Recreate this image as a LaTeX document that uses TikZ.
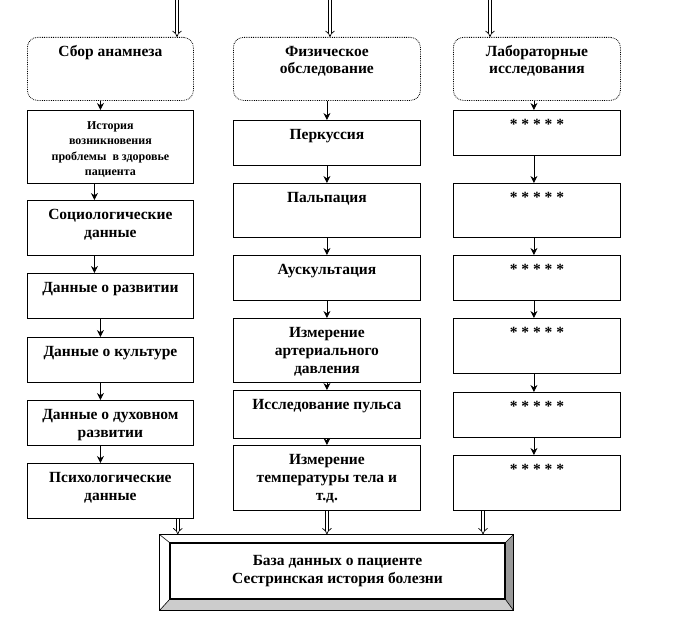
\documentclass[tikz,border=0pt]{standalone}
\usepackage{fontspec}
\setmainfont{Liberation Serif}
\usepackage{tikz}
\usetikzlibrary{shapes, arrows.meta, calc, positioning}
\tikzstyle{arrow} = [line width=0.8pt, -{Stealth[length=7pt, width=7pt]}]
\tikzstyle{bigarrow} = [double, double distance=2.6pt, line width=0.7pt, -{Implies}]
\tikzstyle{stepbox} = [draw, line width=0.8pt, anchor=north west, inner xsep=0pt, inner ysep=6pt, font=\fontsize{15.5}{18}\selectfont\bfseries]
\tikzstyle{headbox} = [stepbox, rounded corners=10pt, densely dotted]
\newcommand{\boxtext}[3]{\parbox[c][\dimexpr#2-12pt\relax][t]{#1}{\centering\strut #3}}

\begin{document}
\begin{tikzpicture}[x=1pt, y=-1pt]
    \useasboundingbox (0,0) rectangle (693,618);
    % left column
    \node[headbox] (L0) at (27,37)  {\boxtext{166pt}{63pt}{Сбор анамнеза}};
    \node[stepbox] (L1) at (27,110) {\boxtext{166pt}{73pt}{\fontsize{12}{15.5}\selectfont История\\возникновения\\проблемы \ в здоровье\\пациента}};
    \node[stepbox] (L2) at (27,200) {\boxtext{166pt}{55pt}{Социологические\\данные}};
    \node[stepbox] (L3) at (27,273) {\boxtext{166pt}{45pt}{Данные о развитии}};
    \node[stepbox] (L4) at (27,337) {\boxtext{166pt}{45pt}{Данные о культуре}};
    \node[stepbox] (L5) at (27,400) {\boxtext{166pt}{45pt}{Данные о духовном\\развитии}};
    \node[stepbox] (L6) at (27,463) {\boxtext{166pt}{55pt}{Психологические\\данные}};
    % middle column
    \node[headbox] (M0) at (233,37)  {\boxtext{187pt}{63pt}{Физическое\\обследование}};
    \node[stepbox] (M1) at (233,120) {\boxtext{187pt}{45pt}{Перкуссия}};
    \node[stepbox] (M2) at (233,183) {\boxtext{187pt}{54pt}{Пальпация}};
    \node[stepbox] (M3) at (233,255) {\boxtext{187pt}{45pt}{Аускультация}};
    \node[stepbox] (M4) at (233,318) {\boxtext{187pt}{64pt}{Измерение\\артериального\\давления}};
    \node[stepbox] (M5) at (233,390) {\boxtext{187pt}{48pt}{Исследование пульса}};
    \node[stepbox] (M6) at (233,445) {\boxtext{187pt}{65pt}{Измерение\\температуры тела и\\т.д.}};
    % right column
    \node[headbox] (R0) at (453,37)  {\boxtext{167pt}{63pt}{Лабораторные\\исследования}};
    \node[stepbox] (R1) at (453,110) {\boxtext{167pt}{45pt}{* * * * *}};
    \node[stepbox] (R2) at (453,183) {\boxtext{167pt}{54pt}{* * * * *}};
    \node[stepbox] (R3) at (453,255) {\boxtext{167pt}{45pt}{* * * * *}};
    \node[stepbox] (R4) at (453,318) {\boxtext{167pt}{55pt}{* * * * *}};
    \node[stepbox] (R5) at (453,392) {\boxtext{167pt}{45pt}{* * * * *}};
    \node[stepbox] (R6) at (453,455) {\boxtext{167pt}{55pt}{* * * * *}};
    % base
    \node[draw, line width=1.2pt, minimum width=335pt, minimum height=56pt, align=center, font=\fontsize{15.5}{18}\selectfont\bfseries] (base) at (337.5,571) {База данных о пациенте\\Сестринская история болезни};
    \coordinate (baseNW) at ($(base.north west)+(-10,-8)$);
    \coordinate (baseNE) at ($(base.north east)+(8,-8)$);
    \coordinate (baseSE) at ($(base.south east)+(8,11)$);
    \coordinate (baseSW) at ($(base.south west)+(-10,11)$);
    \fill[black!40] (baseNE) -- (baseSE) -- (base.south east) -- (base.north east) -- cycle;
    \fill[black!20] (baseSW) -- (baseSE) -- (base.south east) -- (base.south west) -- cycle;
    \draw[line width=0.8pt] (baseNW) rectangle (baseSE);
    \draw[line width=0.6pt] (baseNW) -- (base.north west) (baseNE) -- (base.north east)
        (baseSE) -- (base.south east) (baseSW) -- (base.south west);
    \draw[line width=1.2pt] (base.north west) rectangle (base.south east);
    % inputs
    \coordinate (inL) at (177,0);
    \coordinate (inM) at (330,0);
    \coordinate (inR) at (490,0);
    \draw[bigarrow] (inL) -- (inL |- L0.north);
    \draw[bigarrow] (inM) -- (inM |- M0.north);
    \draw[bigarrow] (inR) -- (inR |- R0.north);
    % left arrows
    \draw[arrow] ([xshift=-10pt]L0.south) -- ([xshift=-10pt]L1.north);
    \draw[arrow] ([xshift=-16pt]L1.south) -- ([xshift=-16pt]L2.north);
    \draw[arrow] ([xshift=-16pt]L2.south) -- ([xshift=-16pt]L3.north);
    \draw[arrow] ([xshift=-10pt]L3.south) -- ([xshift=-10pt]L4.north);
    \draw[arrow] ([xshift=-10pt]L4.south) -- ([xshift=-10pt]L5.north);
    \draw[arrow] ([xshift=-10pt]L5.south) -- ([xshift=-10pt]L6.north);
    % middle arrows
    \draw[arrow] (M0) -- (M1);
    \draw[arrow] (M1) -- (M2);
    \draw[arrow] (M2) -- (M3);
    \draw[arrow] (M3) -- (M4);
    \draw[arrow] (M4) -- (M5);
    \draw[arrow] (M5) -- (M6);
    % right arrows
    \draw[arrow] ([xshift=-3pt]R0.south) -- ([xshift=-3pt]R1.north);
    \draw[arrow] ([xshift=-3pt]R1.south) -- ([xshift=-3pt]R2.north);
    \draw[arrow] ([xshift=-3pt]R2.south) -- ([xshift=-3pt]R3.north);
    \draw[arrow] ([xshift=-3pt]R3.south) -- ([xshift=-3pt]R4.north);
    \draw[arrow] ([xshift=-3pt]R4.south) -- ([xshift=-3pt]R5.north);
    \draw[arrow] ([xshift=-3pt]R5.south) -- ([xshift=-3pt]R6.north);
    % outputs
    \draw[bigarrow] ([xshift=-16pt]L6.south east) -- ([xshift=-16pt]L6.south east |- baseNW);
    \draw[bigarrow] (M6.south) -- (M6.south |- baseNW);
    \draw[bigarrow] ([xshift=30pt]R6.south west) -- ([xshift=30pt]R6.south west |- baseNW);
\end{tikzpicture}
\end{document}
